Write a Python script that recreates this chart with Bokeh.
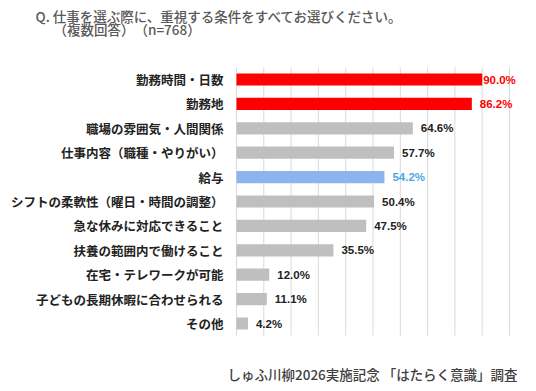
from bokeh.plotting import figure
from bokeh.models import ColumnDataSource, Range1d, Label
from bokeh.core.properties import value
from bokeh.embed import file_html
from bokeh.resources import INLINE

categories = [
    "勤務時間・日数",
    "勤務地",
    "職場の雰囲気・人間関係",
    "仕事内容（職種・やりがい）",
    "給与",
    "シフトの柔軟性（曜日・時間の調整）",
    "急な休みに対応できること",
    "扶養の範囲内で働けること",
    "在宅・テレワークが可能",
    "子どもの長期休暇に合わせられる",
    "その他",
]
values = [90.0, 86.2, 64.6, 57.7, 54.2, 50.4, 47.5, 35.5, 12.0, 11.1, 4.2]
groups = ["top", "top", "other", "other", "pay", "other", "other", "other", "other", "other", "other"]
grid_ticks = [0, 10, 20, 30, 40, 50, 60, 70, 80, 90, 100]

title_line1 = "Q.  仕事を選ぶ際に、重視する条件をすべてお選びください。"
title_line2 = "（複数回答）　（n=768）"
footer = "しゅふ川柳2026実施記念 「はたらく意識」調査"

bar_colors = {"top": "#FF0000", "pay": "#8DB4F0", "other": "#BFBFBF"}
text_colors = {"top": "#FF0000", "pay": "#4AA8E0", "other": "#222222"}

W, H = 536, 391
px_left, px_right = 236, 509      # pixel positions of 0% and 100%
row0_px, row_step = 79, 24.4      # centre of first row, row pitch
ppu = (px_right - px_left) / 100.0

rows = list(range(len(categories)))
src = ColumnDataSource(dict(
    y=rows,
    cat=categories,
    val=values,
    zero=[0] * len(values),
    bar_color=[bar_colors[g] for g in groups],
    text_color=[text_colors[g] for g in groups],
    label=[f"{v:.1f}%" for v in values],
    off=[1 if v >= 88 else 8 for v in values],
))

p = figure(width=W, height=H,
           x_range=Range1d(-px_left / ppu, (W - px_left) / ppu),
           y_range=Range1d((H - row0_px) / row_step, -row0_px / row_step),
           output_backend="svg", toolbar_location=None, min_border=0)
p.outline_line_color = None
p.axis.visible = False
p.grid.visible = False
p.background_fill_color = "white"
p.border_fill_color = "white"

# vertical gridlines
n = len(categories)
p.segment(x0=grid_ticks, x1=grid_ticks, y0=[-0.5] * len(grid_ticks),
          y1=[n - 0.5] * len(grid_ticks), line_color="#D9D9D9", line_width=1)

p.hbar(y="y", right="val", left=0, height=0.5, fill_color="bar_color",
       line_color=None, source=src)
p.text(x="val", y="y", text="label", x_offset="off", text_color="text_color",
       text_font=value("Liberation Sans"), text_font_style="bold",
       text_font_size="11.5px", text_baseline="middle", text_align="left", source=src)
p.text(x="zero", y="y", text="cat", x_offset=-13, text_color="#222222",
       text_font=value("Noto Sans CJK JP"), text_font_style="bold",
       text_font_size="12.5px", text_baseline="middle", text_align="right", source=src)

hdr_font = "'Noto Sans CJK JP Medium', 'Noto Sans CJK JP'"
p.add_layout(Label(x=35, y=H - 15, x_units="screen", y_units="screen", text=title_line1,
                   text_font=hdr_font, text_font_size="13.5px",
                   text_color="#595959", text_baseline="middle"))
p.add_layout(Label(x=53, y=H - 28, x_units="screen", y_units="screen", text=title_line2,
                   text_font=hdr_font, text_font_size="13.5px",
                   text_color="#595959", text_baseline="middle"))
p.add_layout(Label(x=227, y=H - 373, x_units="screen", y_units="screen", text=footer,
                   text_font=hdr_font, text_font_size="13.5px",
                   text_color="#404040", text_baseline="middle"))

open("out.html", "w").write(file_html(p, INLINE))
